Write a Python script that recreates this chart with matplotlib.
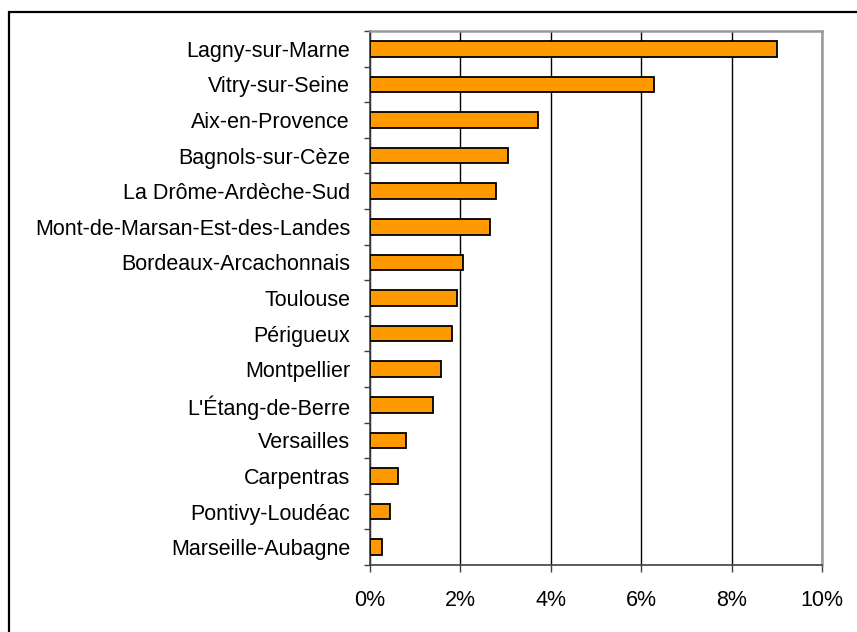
import matplotlib
matplotlib.use("Agg")
import matplotlib.pyplot as plt
from matplotlib.patches import Rectangle
from matplotlib.ticker import FuncFormatter, MultipleLocator

# Data (top to bottom as shown)
villes = [
    "Lagny-sur-Marne", "Vitry-sur-Seine", "Aix-en-Provence", "Bagnols-sur-Cèze",
    "La Drôme-Ardèche-Sud", "Mont-de-Marsan-Est-des-Landes", "Bordeaux-Arcachonnais",
    "Toulouse", "Périgueux", "Montpellier", "L'Étang-de-Berre", "Versailles",
    "Carpentras", "Pontivy-Loudéac", "Marseille-Aubagne",
]
taux = [9.01, 6.28, 3.72, 3.05, 2.79, 2.66, 2.07, 1.94, 1.82, 1.59, 1.41, 0.80, 0.62, 0.45, 0.27]

plt.rcParams['font.family'] = ['Liberation Sans', 'DejaVu Sans']

W, H = 857, 632
fig = plt.figure(figsize=(W / 100, H / 100), dpi=100)

# outer frame (only left and top edges visible, rest cut off)
fig.patches.append(Rectangle((9 / W, -0.05), 1.2, (H - 12) / H + 0.05,
                             transform=fig.transFigure, fill=False,
                             edgecolor='black', linewidth=1.6))

ax = fig.add_axes([369.5 / W, (H - 565) / H, (822 - 369.5) / W, (565 - 31) / H])

pos = list(range(len(villes)))[::-1]
ax.barh(pos, taux, height=0.44, color='#FF9900', edgecolor='black', linewidth=1.3, zorder=3)

ax.set_xlim(0, 10)
ax.set_ylim(-0.5, len(villes) - 0.5)
ax.set_yticks(pos)
ax.set_yticklabels(villes)
ax.yaxis.set_minor_locator(MultipleLocator(1, offset=0.5))
ax.xaxis.set_major_locator(MultipleLocator(2))
ax.xaxis.set_major_formatter(FuncFormatter(lambda v, p: f"{v:.0f}%"))

ax.tick_params(axis='y', which='major', length=0, pad=14, labelsize=15.5)
ax.tick_params(axis='y', which='minor', length=4, width=1, color='#404040', direction='out')
ax.tick_params(axis='x', which='major', length=5, width=1, color='#404040', direction='out',
               pad=13, labelsize=15.5)

ax.grid(axis='x', color='black', linewidth=1, zorder=0)
ax.set_axisbelow(True)
for side in ['top', 'right']:
    ax.spines[side].set_color('#999999')
    ax.spines[side].set_linewidth(1.8)
for side in ['left', 'bottom']:
    ax.spines[side].set_color('#404040')
    ax.spines[side].set_linewidth(1.2)

fig.savefig("out.png", dpi=100)
